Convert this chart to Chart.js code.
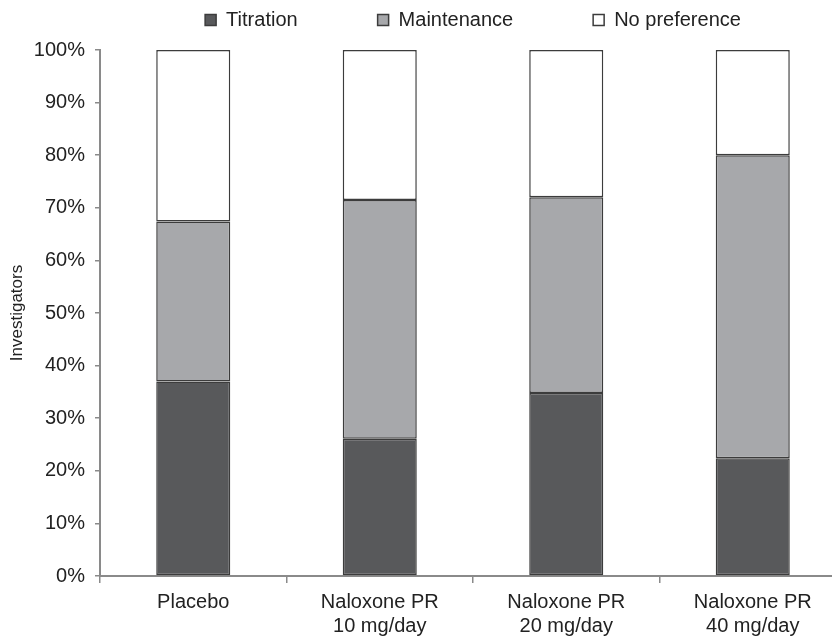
<!DOCTYPE html>
<html>
<head>
<meta charset="utf-8">
<script src="https://cdn.jsdelivr.net/npm/chart.js@4"></script>
<style>
  html, body { margin: 0; padding: 0; background: #fff; overflow: hidden; }
  #wrap { width: 832px; height: 638px; overflow: hidden; }
  canvas { display: block; }
</style>
</head>
<body>
<div id="wrap"><canvas id="chart" width="846" height="638"></canvas></div>
<script>
const groups = ['Placebo', ['Naloxone PR', '10 mg/day'], ['Naloxone PR', '20 mg/day'], ['Naloxone PR', '40 mg/day']];
const titration = [37, 26.1, 34.8, 22.4];
const maintenance = [30.4, 45.4, 37.2, 57.6];
const noPreference = [32.6, 28.5, 28.0, 20.0];
const yTicks = [0, 10, 20, 30, 40, 50, 60, 70, 80, 90, 100];

Chart.defaults.font.family = '"Liberation Sans", Arial, sans-serif';
Chart.defaults.color = '#222';

// legend items are spaced wide apart; the big padding also pushes them down, so pull the box back up
const legendLift = {
  id: 'legendLift',
  afterLayout(chart) {
    const lg = chart.legend;
    lg.top = lg.top + 10 - lg.options.labels.padding;
  }
};

const axisGray = '#8a8a8a';

new Chart(document.getElementById('chart'), {
  type: 'bar',
  data: {
    labels: groups,
    datasets: [
      { label: 'Titration', data: titration, backgroundColor: '#58595b' },
      { label: 'Maintenance', data: maintenance, backgroundColor: '#a7a8ab' },
      { label: 'No preference', data: noPreference, backgroundColor: '#ffffff' }
    ].map(d => ({ ...d, borderColor: '#3c3c3c', borderWidth: 1.5, borderSkipped: false,
                  barPercentage: 0.397, categoryPercentage: 1 }))
  },
  options: {
    responsive: false,
    animation: false,
    layout: { padding: 0 },
    plugins: {
      legend: {
        position: 'top',
        fullSize: false,
        maxHeight: 50,
        labels: {
          boxWidth: 11,
          boxHeight: 11,
          padding: 80,
          color: '#222',
          font: { size: 20 }
        }
      },
      tooltip: { enabled: false }
    },
    scales: {
      x: {
        stacked: true,
        grid: { offset: true, drawOnChartArea: false, tickLength: 7, color: axisGray, lineWidth: 1.5 },
        border: { color: axisGray, width: 2 },
        ticks: { padding: 7, color: '#222', font: { size: 20, lineHeight: 1.22 }, maxRotation: 0 },
        afterFit: s => { s.height = 62; }
      },
      y: {
        stacked: true,
        min: 0,
        max: 100,
        afterBuildTicks: s => { s.ticks = yTicks.map(v => ({ value: v })); },
        grid: { drawOnChartArea: false, tickLength: 5, color: axisGray, lineWidth: 1.5 },
        border: { color: axisGray, width: 2 },
        ticks: { padding: 10, color: '#222', font: { size: 20 }, callback: v => v + '%' },
        title: { display: true, text: 'Investigators', color: '#222', font: { size: 17 }, padding: { top: 7, bottom: 0 } },
        afterFit: s => { s.width = 100; }
      }
    }
  },
  plugins: [legendLift]
});
</script>
</body>
</html>
